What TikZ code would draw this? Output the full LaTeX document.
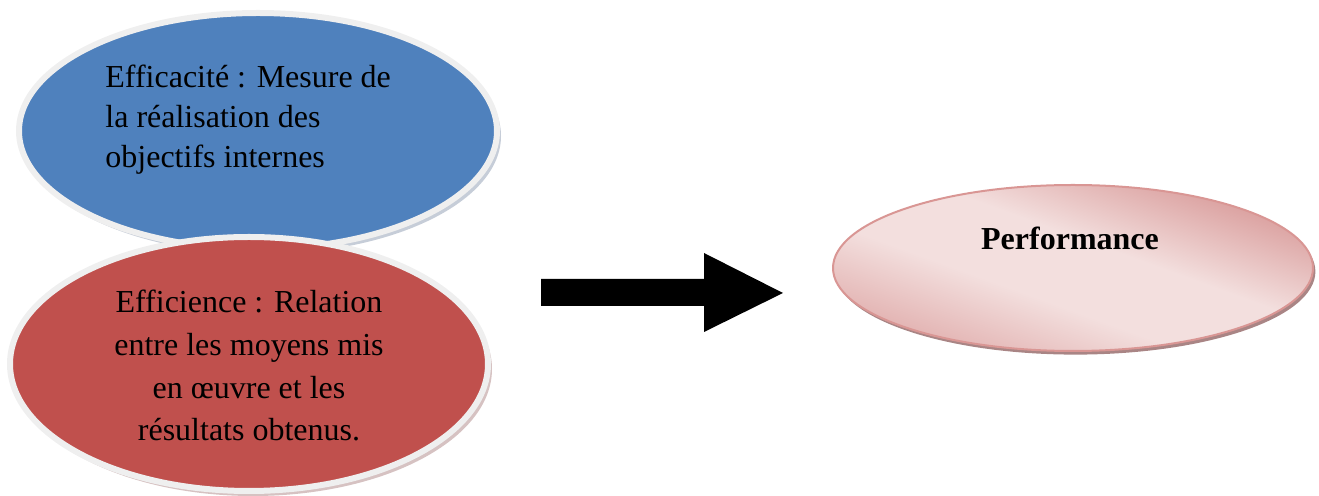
\documentclass[tikz,border=0pt]{standalone}
\usepackage{fontspec}
\setmainfont{Liberation Serif}
\usetikzlibrary{shapes.geometric,shadows}
\definecolor{bluefill}{HTML}{4F81BD}
\definecolor{redfill}{HTML}{C0504D}
\definecolor{ringcol}{HTML}{EFEFEF}
\definecolor{blueshadow}{HTML}{C6CDD8}
\definecolor{redshadow}{HTML}{D6C2C2}
\definecolor{perfborder}{HTML}{D99694}
\definecolor{perfdarkA}{HTML}{E0ACAB}
\definecolor{perfdarkB}{HTML}{DA9F9E}
\definecolor{perflight}{HTML}{F3DFDE}
\definecolor{perfshadow}{HTML}{A98585}
\pgfdeclarehorizontalshading{perfshade}{100bp}{color(0bp)=(perfdarkA); color(24bp)=(perfdarkA); color(42bp)=(perflight); color(56bp)=(perflight); color(74bp)=(perfdarkB); color(100bp)=(perfdarkB)}
\tikzset{
  ringell/.style={ellipse, inner sep=0pt, draw=ringcol, line width=3pt},
  perfell/.style={ellipse, inner sep=0pt, draw=perfborder, line width=1pt, shading=perfshade, shading angle=70},
  bodytext/.style={inner sep=0pt, font=\fontsize{16pt}{20pt}\selectfont},
}
\begin{document}
\begin{tikzpicture}[x=0.5pt, y=-0.5pt]
\useasboundingbox (0,0) rectangle (1319,496);
% blue ellipse
\node[ringell, fill=bluefill, minimum width=239pt, minimum height=118pt,
  drop shadow={shadow xshift=2pt, shadow yshift=-2.5pt, fill=blueshadow, opacity=1}] (eff) at (258,131) {};
\node[bodytext, anchor=north west, align=left] (efftxt) at (105,65)
  {Efficacité : Mesure de\\la réalisation des\\objectifs internes};
% red ellipse
\node[ringell, fill=redfill, minimum width=239pt, minimum height=127pt,
  drop shadow={shadow xshift=2pt, shadow yshift=-2.5pt, fill=redshadow, opacity=1}] (effi) at (249,364) {};
\node[bodytext, anchor=north, align=center, font=\fontsize{16pt}{21.3pt}\selectfont] (effitxt) at (249,290)
  {Efficience : Relation\\entre les moyens mis\\en œuvre et les\\résultats obtenus.};
% arrow
\coordinate (a1) at (541,279);
\coordinate (a2) at (704,279);
\coordinate (a3) at (704,253);
\coordinate (tip) at (783,293);
\coordinate (a5) at (704,332);
\coordinate (a6) at (704,306);
\coordinate (a7) at (541,306);
\fill[black] (a1) -- (a2) -- (a3) -- (tip) -- (a5) -- (a6) -- (a7) -- cycle;
% performance
\node[perfell, minimum width=240pt, minimum height=83pt,
  drop shadow={shadow xshift=1.2pt, shadow yshift=-1.8pt, fill=perfshadow, opacity=1}] (perf) at (1073,268) {};
\node[bodytext, anchor=base, font=\fontsize{16pt}{20pt}\selectfont\bfseries] (perftxt) at (1070,250) {Performance};
\end{tikzpicture}
\end{document}
